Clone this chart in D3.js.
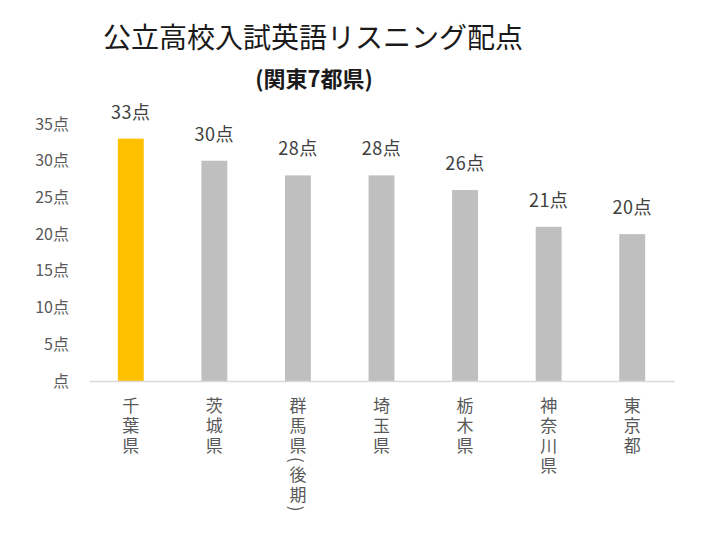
<!DOCTYPE html>
<html><head><meta charset="utf-8">
<script src="https://cdn.jsdelivr.net/npm/d3@7"></script>
<style>
body{margin:0;background:#fff;}
text{font-family:"Noto Sans CJK JP","Noto Sans",sans-serif;}
</style></head>
<body><svg id="c" width="716" height="535"></svg>
<script>
const categories = ["千葉県","茨城県","群馬県(後期)","埼玉県","栃木県","神奈川県","東京都"];
const values = [33,30,28,28,26,21,20];
const highlight = ["千葉県"];
const yTicks = [0,5,10,15,20,25,30,35];
const title = "公立高校入試英語リスニング配点";
const subtitle = "(関東7都県)";

const svg = d3.select("#c");
const m = {left:89, right:674, top:124, bottom:381};
const x = d3.scaleBand().domain(categories).range([m.left,m.right]).paddingInner(0.69).paddingOuter(0.345);
const y = d3.scaleLinear().domain([0,35]).range([m.bottom,m.top]);

svg.append("text").attr("x",313).attr("y",48).attr("text-anchor","middle")
  .attr("font-size",28).attr("fill","#1a1a1a").text(title);
svg.append("text").attr("x",314).attr("y",87).attr("text-anchor","middle")
  .attr("font-size",22).attr("font-weight",600).attr("fill","#1a1a1a").text(subtitle);

const yAxis = d3.axisLeft(y).tickValues(yTicks).tickSize(0).tickPadding(0)
  .tickFormat(d => (d===0?"":d)+"点");
const gy = svg.append("g").attr("transform","translate(69,0)").call(yAxis);
gy.select(".domain").remove();
gy.selectAll("text").attr("font-size",16).attr("fill","#595959")
  .attr("font-family","'Noto Sans CJK JP',sans-serif");

svg.selectAll("rect.bar").data(values).enter().append("rect")
  .attr("x",(d,i)=>x(categories[i])).attr("width",x.bandwidth())
  .attr("y",d=>y(d)).attr("height",d=>y(0)-y(d))
  .attr("fill",(d,i)=>highlight.includes(categories[i])?"#FFC000":"#BFBFBF");

svg.selectAll("text.lbl").data(values).enter().append("text")
  .attr("x",(d,i)=>x(categories[i])+x.bandwidth()/2).attr("y",d=>y(d)-28)
  .attr("text-anchor","middle").attr("dominant-baseline","central")
  .attr("font-size",18).attr("letter-spacing",0.5).attr("fill","#404040").text(d=>d+"点");

const xAxis = d3.axisBottom(x).tickSize(0).tickPadding(0);
const gx = svg.append("g").attr("transform",`translate(0,${m.bottom})`).call(xAxis);
gx.select(".domain").attr("stroke","#D9D9D9").attr("stroke-width",1.5);
gx.selectAll("text").remove();
gx.selectAll(".tick").append("text")
  .attr("x",0).attr("y",16)
  .attr("text-anchor","start")
  .style("writing-mode","vertical-rl")
  .attr("font-size",17).attr("fill","#595959")
  .attr("letter-spacing",3)
  .text(d=>d);
</script></body></html>
